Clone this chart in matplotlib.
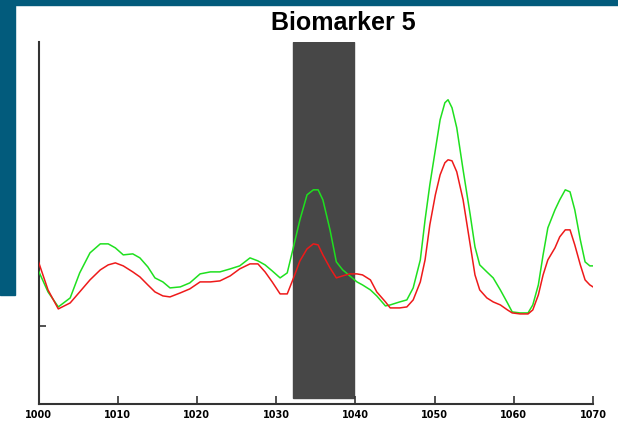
import matplotlib
matplotlib.use('Agg')
import matplotlib.pyplot as plt
from matplotlib.patches import Rectangle

# x positions (shared by both traces)
x_vals = [1000.0, 1001.2, 1002.5, 1004.0, 1005.2, 1006.5, 1007.8, 1008.8, 1009.7, 1010.7,
          1011.9, 1012.8, 1013.8, 1014.7, 1015.7, 1016.6, 1017.9, 1019.1, 1020.4, 1021.7,
          1022.9, 1024.2, 1025.4, 1026.7, 1027.7, 1028.6, 1029.5, 1030.5, 1031.4, 1032.1,
          1033.0, 1033.9, 1034.7, 1035.3, 1035.9, 1036.8, 1037.6, 1038.4, 1039.3, 1040.2,
          1040.9, 1041.9, 1042.7, 1043.8, 1044.4, 1045.6, 1046.5, 1047.3, 1048.2, 1048.8,
          1049.4, 1050.1, 1050.7, 1051.3, 1051.7, 1052.2, 1052.8, 1053.6, 1054.5, 1055.1,
          1055.7, 1056.6, 1057.4, 1058.3, 1059.2, 1059.8, 1060.8, 1061.8, 1062.4, 1063.1,
          1063.7, 1064.3, 1065.2, 1065.8, 1066.5, 1067.1, 1067.7, 1068.4, 1069.0, 1069.6,
          1070.0]

green_vals = [133, 112, 97, 106, 131, 151, 160, 160, 156, 149,
              150, 146, 137, 126, 122, 116, 117, 121, 130, 132,
              132, 135, 138, 146, 143, 139, 133, 126, 131, 154,
              184, 209, 214, 214, 204, 174, 142, 134, 128, 122,
              119, 114, 108, 98, 99, 102, 104, 116, 144, 184,
              219, 254, 284, 301, 304, 296, 276, 234, 189, 157,
              139, 132, 126, 114, 101, 92, 91, 91, 99, 119,
              149, 176, 194, 204, 214, 212, 194, 164, 142, 138,
              138]

red_vals = [142, 114, 95, 101, 112, 124, 134, 139, 141, 138,
            132, 127, 119, 112, 108, 107, 111, 115, 122, 122,
            123, 128, 135, 140, 140, 132, 122, 110, 110, 124,
            143, 155, 160, 159, 149, 136, 126, 128, 130, 130,
            129, 124, 112, 102, 96, 96, 97, 104, 122, 144,
            179, 209, 229, 241, 244, 243, 232, 204, 159, 129,
            114, 106, 102, 99, 94, 91, 90, 90, 94, 109,
            129, 144, 156, 167, 174, 174, 159, 139, 124, 119,
            117]

xticks = [1000, 1010, 1020, 1030, 1040, 1050, 1060, 1070]
xtick_labels = ['1000', '1010', '1020', '1030', '1040', '1050', '1060', '1070']
yticks = [78]
band = (1032.1, 1039.8)

fig = plt.figure(figsize=(6.18, 4.41), dpi=100)

# slide decoration
teal = '#025b7c'
fig.patches.append(Rectangle((0, 1 - 295 / 441), 15 / 618, 295 / 441,
                             transform=fig.transFigure, color=teal, zorder=0))
fig.patches.append(Rectangle((0, 1 - 5 / 441), 1, 5 / 441,
                             transform=fig.transFigure, color=teal, zorder=0))

ax = fig.add_axes([38.5 / 618, 1 - 404 / 441, (593 - 38.5) / 618, (404 - 41.7) / 441])
ax.set_xlim(1000, 1070)
ax.set_ylim(0, 362)

ax.add_patch(Rectangle((band[0], 6), band[1] - band[0], 356, color='#474747', zorder=1))
ax.plot(x_vals, green_vals, color='#1fe01f', lw=1.1, zorder=3)
ax.plot(x_vals, red_vals, color='#ee1a1a', lw=1.1, zorder=3)

for s in ['top', 'right']:
    ax.spines[s].set_visible(False)
for s in ['left', 'bottom']:
    ax.spines[s].set_color('#333333')
    ax.spines[s].set_linewidth(1.5)

ax.set_xticks(xticks)
ax.set_xticklabels(xtick_labels, family=['Liberation Sans Narrow', 'DejaVu Sans'],
                   fontsize=7, fontweight='bold')
ax.set_yticks(yticks)
ax.set_yticklabels([])
ax.tick_params(axis='x', direction='in', length=6, width=1.2, color='#333333', pad=4)
ax.tick_params(axis='y', direction='in', length=5, width=1.2, color='#333333')

fig.text(343.5 / 618, 1 - 23 / 441, 'Biomarker 5', ha='center', va='center',
         fontsize=18, fontweight='bold', family=['Liberation Sans', 'DejaVu Sans'])

fig.savefig('out.png', dpi=100)
